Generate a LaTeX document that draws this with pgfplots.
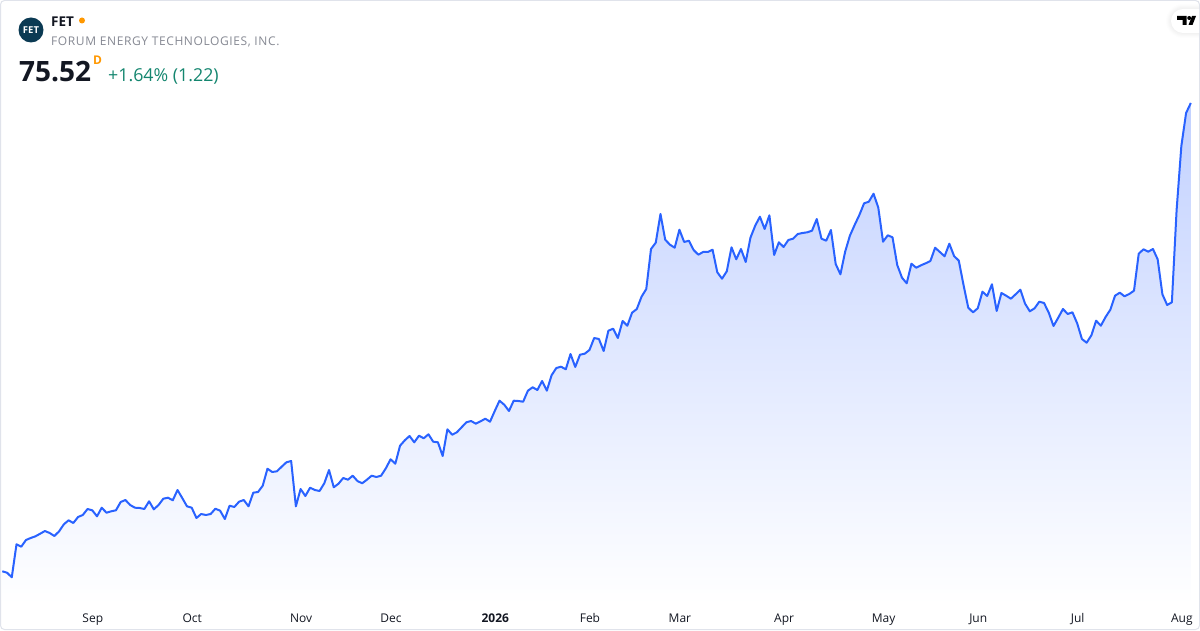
\documentclass[border=0pt]{standalone}
\usepackage{pgfplots}
\usepackage{pgfplotstable}
\usepackage{fontspec}
\pgfplotsset{compat=1.18}
\setmainfont{Open Sans}
\definecolor{tvblue}{HTML}{2962FF}
\definecolor{topfill}{HTML}{C2D1FF}
\definecolor{cardline}{HTML}{E0E3EB}
\definecolor{tvgreen}{HTML}{14866F}
\definecolor{tvorange}{HTML}{FF9800}
\definecolor{ink}{HTML}{131722}
\definecolor{subtle}{HTML}{868993}
\definecolor{logoblue}{HTML}{0B3A53}
\pgfdeclareverticalshading{fade}{100bp}{color(0bp)=(white); color(27.4bp)=(white); color(75bp)=(topfill); color(100bp)=(topfill)}
% index, height of the line above the bottom edge of the card
\pgfplotstableread{
d h
0 58.7
1 57.3
2 52.7
3 85.7
4 83.3
5 90
6 92
7 93.7
8 96.3
9 99
10 97
11 94
12 98.7
13 105.7
14 109.7
15 107
16 113
17 115
18 121
19 119.7
20 113.7
21 122.3
22 117.3
23 118.7
24 119.7
25 128
26 130
27 125
28 122.3
29 122
30 121
31 128.7
32 120.7
33 125
34 131.3
35 132.3
36 129.7
37 140
38 132
39 123.7
40 122.3
41 112
42 116
43 115
44 116
45 121.3
46 119.3
47 111
48 124.3
49 123
50 128.3
51 130
52 123.7
53 137.3
54 138
55 144.3
56 161.3
57 158
58 158.7
59 163.3
60 167.7
61 169
62 123.7
63 141
64 134
65 142.3
66 140
67 139
68 146.7
69 160
70 142.7
71 146.3
72 152
73 150.3
74 154.3
75 149
76 146.7
77 150.3
78 154.3
79 153
80 154.3
81 161.7
82 170.7
83 166.3
84 184.3
85 189.7
86 194
87 187.7
88 194.3
89 191.7
90 195.7
91 188.3
92 187.7
93 174
94 200.7
95 195.3
96 197.7
97 202.7
98 207.7
99 209
100 206.3
101 208.7
102 211.3
103 208.3
104 219
105 229.3
106 225.3
107 219
108 229.3
109 229
110 228.3
111 239.3
112 242.7
113 240
114 249
115 239.3
116 254.7
117 262
118 263.3
119 260.7
120 276
121 263
122 275.3
123 276.3
124 280
125 292
126 291
127 279
128 299.3
129 301.3
130 292
131 309
132 304.3
133 317.3
134 321
135 333.3
136 341
137 381
138 387.3
139 416
140 390.3
141 385.3
142 382.3
143 400.3
144 388
145 389.3
146 380
147 375.3
148 378
149 378
150 380.3
151 357.7
152 351.3
153 358.7
154 382.7
155 370.7
156 381
157 368
158 392.3
159 404.3
160 413.3
161 401
162 414.7
163 375
164 387.7
165 383
166 390
167 391.3
168 396
169 397
170 397.7
171 399.3
172 411
173 391.3
174 389.3
175 400
176 366
177 355.7
178 378.3
179 394.3
180 405
181 415
182 426.7
183 428.3
184 436.3
185 422.3
186 388.3
187 394.7
188 392.7
189 365
190 352.3
191 346.7
192 366.3
193 362.3
194 364.7
195 366.7
196 369
197 382.3
198 378
199 373.7
200 386.3
201 374
202 369.3
203 345
204 322.3
205 317.7
206 321.7
207 338.3
208 334
209 345.7
210 319
211 337
212 334.3
213 331.3
214 335.7
215 340.3
216 326.3
217 318.7
218 321.7
219 328.3
220 327
221 317.3
222 304
223 312.3
224 321
225 316
226 317.7
227 306.7
228 291
229 287.3
230 294.7
231 309.3
232 304.3
233 313
234 320.3
235 334.3
236 337.3
237 333.7
238 336
239 339.3
240 376.3
241 380.7
242 378.3
243 381
244 370.7
245 335.7
246 325
247 327.7
248 420
249 484
250 517
251 527
}\series
\begin{document}
\begin{tikzpicture}[x=1pt,y=1pt]
\path[use as bounding box] (0,0) rectangle (1200,630);
\fill[white] (0,0) rectangle (1200,630);
\begin{axis}[
  at={(0pt,0pt)}, anchor=south west,
  scale only axis, width=1200pt, height=630pt,
  xmin=-0.486, xmax=252.94, ymin=0, ymax=630,
  axis line style={draw=none},
  major tick length=0pt,
  ytick=\empty,
  xtick={19,40,63,82,104,124,143,165,186,206,227,249},
  xticklabels={Sep,Oct,Nov,Dec,\textbf{2026},Feb,Mar,Apr,May,Jun,Jul,Aug},
  xticklabel style={font=\fontsize{12}{14}\selectfont, text=ink, anchor=base, yshift=8pt, xshift=0.5pt},
  axis on top=true,
  clip=true,
]
\addplot[draw=none, shading=fade] table[x=d,y=h] {\series} \closedcycle;
\addplot[tvblue, line width=2pt, line join=round, mark=none] table[x=d,y=h] {\series};
\end{axis}
% card edge
\draw[cardline, line width=1pt, rounded corners=4pt] (0.5,0.5) rectangle (1199.5,629.5);
% logo pill
\begin{scope}
\clip (0,0) rectangle (1199,630);
\foreach \r/\o in {17/.006,16/.008,15/.01,14/.012,13/.012}{
  \fill[black, opacity=\o] (1183,609-\r) arc[start angle=270,end angle=90,radius=\r] -- (1210,609+\r) -- (1210,609-\r) -- cycle;
}
\fill[white] (1183,597) arc[start angle=270,end angle=90,radius=12] -- (1210,621) -- (1210,597) -- cycle;
\end{scope}
\fill[black] (1177,614) -- (1186.5,614) -- (1186.5,605) -- (1182.5,605) -- (1182.5,610) -- (1177,610) -- cycle;
\fill[black] (1189.2,612) circle[radius=2];
\fill[black] (1188.5,605) -- (1192.5,605) -- (1196,614) -- (1192,614) -- cycle;
% header
\fill[logoblue] (31,600) circle[radius=12.5];
\node[anchor=center, text=white, inner sep=0pt] at (31,600) {\fontsize{9.5}{11}\selectfont\bfseries FET};
\node[anchor=base west, inner sep=0pt, text=ink] at (51,603.5) {\fontsize{13.5}{14}\selectfont\bfseries FET};
\fill[tvorange] (82,609.5) circle[radius=3];
\node[anchor=base west, inner sep=0pt, text=subtle] at (51,584.5) {\fontsize{12}{14}\selectfont\addfontfeatures{LetterSpace=5}FORUM ENERGY TECHNOLOGIES, INC.};
\node[anchor=base west, inner sep=0pt, text=ink] at (19,548.5) {\fontsize{28}{32}\selectfont\bfseries 75.52};
\node[anchor=base west, inner sep=0pt, text=tvorange] at (93,565) {\fontsize{12}{14}\selectfont\bfseries D};
\node[anchor=base west, inner sep=0pt, text=tvgreen] at (108,548.5) {\fontsize{17.8}{20}\selectfont +1.64\% (1.22)};
\end{tikzpicture}
\end{document}
